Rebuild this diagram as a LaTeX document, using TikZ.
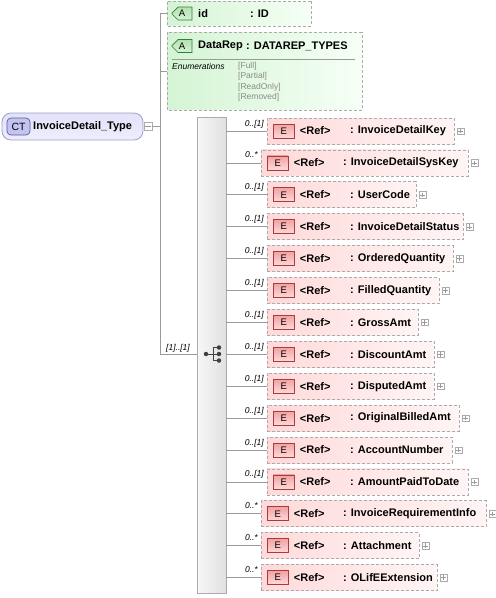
\documentclass[tikz,border=0pt]{standalone}
\usepackage{fontspec}
\setmainfont{Liberation Sans}
\usetikzlibrary{positioning,shapes.misc}

\definecolor{linegray}{HTML}{9A9A9A}
\definecolor{boxgray}{HTML}{ABABAB}
\definecolor{elpink}{HTML}{FFD9D9}
\definecolor{elpinklight}{HTML}{FFF5F5}
\definecolor{ebadgefill}{HTML}{F2A2A2}
\definecolor{ebadgeline}{HTML}{A83C3C}
\definecolor{attgreen}{HTML}{D4F4D4}
\definecolor{attgreenlight}{HTML}{F6FFF6}
\definecolor{abadgefill}{HTML}{B2E2B2}
\definecolor{abadgeline}{HTML}{3C7A3C}
\definecolor{ctfill}{HTML}{E2E2FA}
\definecolor{ctline}{HTML}{A0A0C8}
\definecolor{ctbadge}{HTML}{C4C4F2}
\definecolor{ctbadgeline}{HTML}{5A5AA0}
\definecolor{enumgray}{HTML}{8A8A8A}

\tikzset{
  conn/.style={draw=linegray, line width=0.8pt},
  eltext/.style={font=\bfseries\fontsize{11}{13}\selectfont, inner sep=0pt},
  card/.style={font=\itshape\fontsize{8.5}{10}\selectfont, inner sep=0pt},
  elbox/.style={draw=boxgray, dash pattern=on 3pt off 2pt, line width=0.8pt,
    left color=elpink, right color=elpinklight,
    minimum height=26pt, inner sep=0pt, outer sep=0pt},
  ebadge/.style={draw=ebadgeline, line width=0.7pt, top color=ebadgefill, bottom color=elpink,
    minimum width=21pt, minimum height=14pt, inner sep=0pt,
    font=\fontsize{9.5}{10}\selectfont},
  attbox/.style={chamfered rectangle, chamfered rectangle xsep=5pt, chamfered rectangle ysep=5pt,
    draw=boxgray, dash pattern=on 3pt off 2pt, line width=0.8pt,
    left color=attgreen, right color=attgreenlight, inner sep=0pt, outer sep=0pt},
  abadge/.style={chamfered rectangle, chamfered rectangle corners={north west,south west},
    chamfered rectangle xsep=3pt, chamfered rectangle ysep=3pt,
    draw=abadgeline, line width=0.7pt, top color=abadgefill, bottom color=attgreen,
    minimum width=20pt, minimum height=13pt, inner sep=0pt, font=\fontsize{9.5}{10}\selectfont},
  enumval/.style={font=\fontsize{8.5}{10}\selectfont, text=enumgray, inner sep=0pt, anchor=west},
  plusbox/.style={draw=boxgray, fill=white, minimum size=6.5pt, inner sep=0pt},
  seqdot/.style={circle, fill=black!75, minimum size=4.5pt, inner sep=0pt}
}

\begin{document}
\begin{tikzpicture}[x=1pt, y=-1pt]
\useasboundingbox (0,0) rectangle (496,598);

% complex type
\node[draw=ctline, line width=0.8pt, rounded corners=9pt, top color=ctfill, bottom color=ctfill!60,
  minimum width=141pt, minimum height=27pt, inner sep=0pt] (ct) at (72.5,126.5) {};
\node[draw=ctbadgeline, line width=0.7pt, rounded corners=4pt, fill=ctbadge,
  minimum width=23pt, minimum height=17pt, inner sep=0pt, font=\fontsize{10.5}{12}\selectfont] (ctbadge) at (18.5,126.5) {CT};
\node[eltext, anchor=west] (ctname) at (33,126.5) {InvoiceDetail\_Type};
\node[plusbox, minimum size=8pt] (ctminus) at (148,126.5) {};
\draw[linegray] ([xshift=1.5pt]ctminus.west) -- ([xshift=-1.5pt]ctminus.east);

% attributes
\node[attbox, minimum width=144pt, minimum height=25pt] (id) at (239,13.5) {};
\node[abadge] (idbadge) at (182,13.5) {A};
\node[eltext, anchor=west] (idname) at (198,13.5) {id};
\node[eltext, anchor=west] (idtype) at (250,13.5) {: ID};

\node[attbox, minimum width=195pt, minimum height=78pt] (datarep) at (264.5,71) {};
\node[abadge] (drbadge) at (182,46) {A};
\node[eltext, anchor=west] (drname) at (198,46) {DataRep};
\node[eltext, anchor=west] (drtype) at (246,46) {: DATAREP\_TYPES};
\coordinate (sepl) at (172,59);
\coordinate (sepr) at (355,59);
\draw[linegray] (sepl) -- (sepr);
\node[font=\itshape\fontsize{8.5}{10}\selectfont, inner sep=0pt, anchor=west] (enumlbl) at (172,66) {Enumerations};
\node[enumval] (enum1) at (238,66) {[Full]};
\node[enumval] (enum2) at (238,76.5) {[Partial]};
\node[enumval] (enum3) at (238,87) {[ReadOnly]};
\node[enumval] (enum4) at (238,97.5) {[Removed]};

% sequence
\node[draw=boxgray, line width=0.8pt, left color=gray!6, right color=gray!24,
  minimum width=29pt, minimum height=476pt, inner sep=0pt] (bar) at (211.5,355) {};
\node[seqdot] (sd0) at (206,354) {};
\node[seqdot] (sd1) at (219,347.5) {};
\node[seqdot] (sd2) at (219,354) {};
\node[seqdot] (sd3) at (219,360.5) {};
\coordinate (sqfork) at (213,354);
\draw[black!75, line width=0.8pt] (sd0) -- (sqfork) (sd2) -- (sqfork)
  (sd1) -| (sqfork) (sd3) -| (sqfork);

% trunk
\coordinate (trunktop) at (160,13.5);
\coordinate (trunkbot) at (160,354);
\draw[conn] (ctminus.east) -- (ctminus.east -| trunktop);
\draw[conn] (trunktop) -- (trunkbot);
\draw[conn] (trunktop) -- (id.west);
\draw[conn] (datarep.west -| trunktop) -- (datarep.west);
\draw[conn] (trunkbot) -- (trunkbot -| bar.west);
\node[card, anchor=base] (seqcard) at (178,350) {[1]..[1]};

% elements
\foreach \i/\nm/\lft/\rgt/\nx/\card in {
  1/InvoiceDetailKey/267/454/350/{0..[1]},
  2/InvoiceDetailSysKey/261/468/343/{0..*},
  3/UserCode/267/416/350/{0..[1]},
  4/InvoiceDetailStatus/267/463/350/{0..[1]},
  5/OrderedQuantity/267/453/350/{0..[1]},
  6/FilledQuantity/267/439/350/{0..[1]},
  7/GrossAmt/267/418/350/{0..[1]},
  8/DiscountAmt/267/434/350/{0..[1]},
  9/DisputedAmt/267/434/350/{0..[1]},
  10/OriginalBilledAmt/267/459/350/{0..[1]},
  11/AccountNumber/267/452/350/{0..[1]},
  12/AmountPaidToDate/267/468/350/{0..[1]},
  13/InvoiceRequirementInfo/261/486/343/{0..*},
  14/Attachment/261/419/343/{0..*},
  15/OLifEExtension/261/437/343/{0..*}}{
  \pgfmathsetmacro\cy{131+31.9*(\i-1)}
  \node[elbox, anchor=west, minimum width=\rgt-\lft] (e\i) at (\lft,\cy) {};
  \node[ebadge, anchor=west] (b\i) at ([xshift=6pt]e\i.west) {E};
  \node[eltext, anchor=west] (r\i) at ([xshift=5pt]b\i.east) {<Ref>};
  \node[eltext, anchor=west] (n\i) at (\nx,\cy) {: \nm};
  \node[plusbox, anchor=west] (p\i) at ([xshift=3pt]e\i.east) {};
  \draw[linegray] ([xshift=1.2pt]p\i.west) -- ([xshift=-1.2pt]p\i.east)
    ([yshift=-1.2pt]p\i.north) -- ([yshift=1.2pt]p\i.south);
  \draw[conn] (e\i.west -| bar.east) -- (e\i.west);
  \node[card, anchor=base east] (c\i) at ([xshift=-3pt,yshift=5pt]e\i.west) {\card};
}
\end{tikzpicture}
\end{document}
